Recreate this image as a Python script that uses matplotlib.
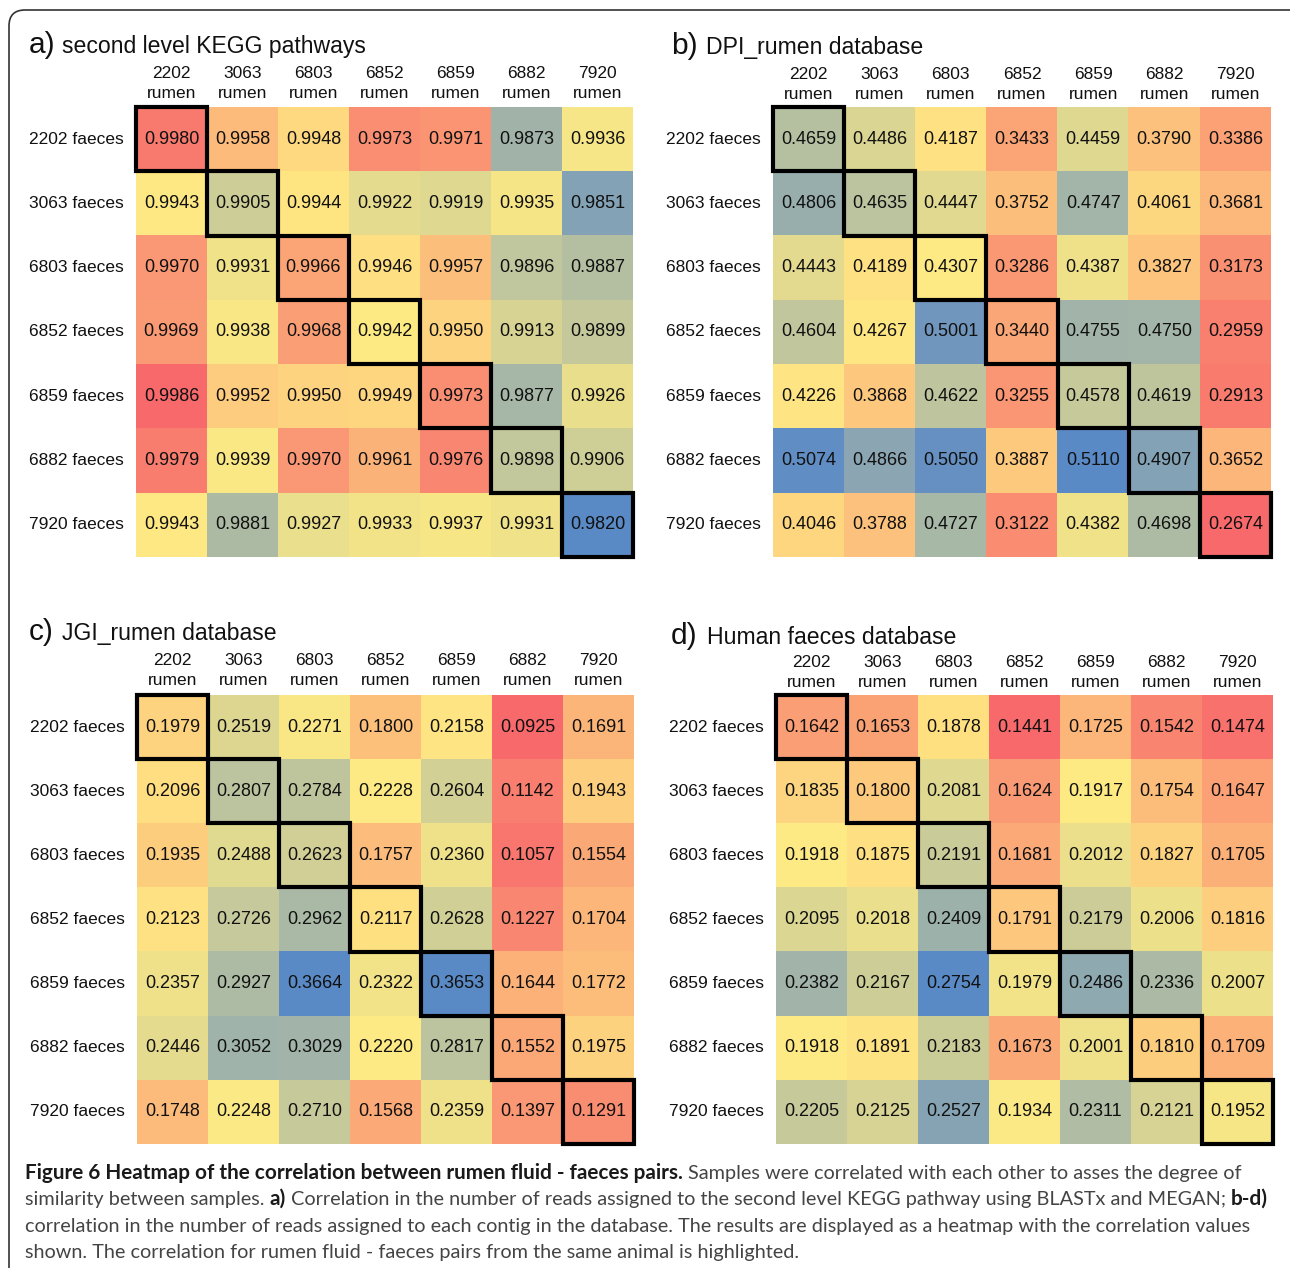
import numpy as np
import matplotlib
matplotlib.use("Agg")
import matplotlib.pyplot as plt
from matplotlib.colors import LinearSegmentedColormap, TwoSlopeNorm
from matplotlib.patches import Rectangle, FancyBboxPatch
from matplotlib.transforms import IdentityTransform

# ---------------- data ----------------
animals = ["2202", "3063", "6803", "6852", "6859", "6882", "7920"]
col_labels = [a + "\nrumen" for a in animals]
row_labels = [a + " faeces" for a in animals]

kegg = [
    [0.9980, 0.9958, 0.9948, 0.9973, 0.9971, 0.9873, 0.9936],
    [0.9943, 0.9905, 0.9944, 0.9922, 0.9919, 0.9935, 0.9851],
    [0.9970, 0.9931, 0.9966, 0.9946, 0.9957, 0.9896, 0.9887],
    [0.9969, 0.9938, 0.9968, 0.9942, 0.9950, 0.9913, 0.9899],
    [0.9986, 0.9952, 0.9950, 0.9949, 0.9973, 0.9877, 0.9926],
    [0.9979, 0.9939, 0.9970, 0.9961, 0.9976, 0.9898, 0.9906],
    [0.9943, 0.9881, 0.9927, 0.9933, 0.9937, 0.9931, 0.9820],
]
dpi_rumen = [
    [0.4659, 0.4486, 0.4187, 0.3433, 0.4459, 0.3790, 0.3386],
    [0.4806, 0.4635, 0.4447, 0.3752, 0.4747, 0.4061, 0.3681],
    [0.4443, 0.4189, 0.4307, 0.3286, 0.4387, 0.3827, 0.3173],
    [0.4604, 0.4267, 0.5001, 0.3440, 0.4755, 0.4750, 0.2959],
    [0.4226, 0.3868, 0.4622, 0.3255, 0.4578, 0.4619, 0.2913],
    [0.5074, 0.4866, 0.5050, 0.3887, 0.5110, 0.4907, 0.3652],
    [0.4046, 0.3788, 0.4727, 0.3122, 0.4382, 0.4698, 0.2674],
]
jgi_rumen = [
    [0.1979, 0.2519, 0.2271, 0.1800, 0.2158, 0.0925, 0.1691],
    [0.2096, 0.2807, 0.2784, 0.2228, 0.2604, 0.1142, 0.1943],
    [0.1935, 0.2488, 0.2623, 0.1757, 0.2360, 0.1057, 0.1554],
    [0.2123, 0.2726, 0.2962, 0.2117, 0.2628, 0.1227, 0.1704],
    [0.2357, 0.2927, 0.3664, 0.2322, 0.3653, 0.1644, 0.1772],
    [0.2446, 0.3052, 0.3029, 0.2220, 0.2817, 0.1552, 0.1975],
    [0.1748, 0.2248, 0.2710, 0.1568, 0.2359, 0.1397, 0.1291],
]
human_faeces = [
    [0.1642, 0.1653, 0.1878, 0.1441, 0.1725, 0.1542, 0.1474],
    [0.1835, 0.1800, 0.2081, 0.1624, 0.1917, 0.1754, 0.1647],
    [0.1918, 0.1875, 0.2191, 0.1681, 0.2012, 0.1827, 0.1705],
    [0.2095, 0.2018, 0.2409, 0.1791, 0.2179, 0.2006, 0.1816],
    [0.2382, 0.2167, 0.2754, 0.1979, 0.2486, 0.2336, 0.2007],
    [0.1918, 0.1891, 0.2183, 0.1673, 0.2001, 0.1810, 0.1709],
    [0.2205, 0.2125, 0.2527, 0.1934, 0.2311, 0.2121, 0.1952],
]

panel_letters = ["a)", "b)", "c)", "d)"]
panel_titles = ["second level KEGG pathways", "DPI_rumen database",
                "JGI_rumen database", "Human faeces database"]
panel_data = [kegg, dpi_rumen, jgi_rumen, human_faeces]
high_is_red = [True, False, False, False]

caption_lines = [
    [("b", "Figure 6 Heatmap of the correlation between rumen fluid - faeces pairs."),
     ("r", " Samples were correlated with each other to asses the degree of")],
    [("r", "similarity between samples. "), ("b", "a)"),
     ("r", " Correlation in the number of reads assigned to the second level KEGG pathway using BLASTx and MEGAN; "),
     ("b", "b-d)")],
    [("r", "correlation in the number of reads assigned to each contig in the database. The results are displayed as a heatmap with the correlation values")],
    [("r", "shown. The correlation for rumen fluid - faeces pairs from the same animal is highlighted.")],
]

# ---------------- layout (pixels) ----------------
W, H = 1290, 1268
fig = plt.figure(figsize=(W / 100, H / 100), dpi=100)

panels_px = [
    dict(box=(136, 107, 633, 557), tb=53, lx=29, tx=62, cb=98),
    dict(box=(773, 107, 1271, 557), tb=54, lx=671, tx=706, cb=99),
    dict(box=(137, 695, 634, 1144), tb=640, lx=29, tx=62, cb=685),
    dict(box=(776, 695, 1273, 1144), tb=644, lx=671, tx=707, cb=687),
]

FONT = ["Liberation Sans", "DejaVu Sans"]
colors = ["#F8696B", "#FFEB84", "#5A8AC6"]
cmap_low_red = LinearSegmentedColormap.from_list("rdylbu_xl", colors)
cmap_high_red = LinearSegmentedColormap.from_list("bu_yl_rd_xl", colors[::-1])


def fy(y):
    return 1 - y / H


for k in range(4):
    P = panels_px[k]
    L, T, R, B = P["box"]
    ax = fig.add_axes([L / W, fy(B), (R - L) / W, (B - T) / H])
    data = np.array(panel_data[k])
    n = data.shape[0]
    norm = TwoSlopeNorm(vmin=data.min(), vcenter=np.median(data), vmax=data.max())
    cmap = cmap_high_red if high_is_red[k] else cmap_low_red
    ax.imshow(data, cmap=cmap, norm=norm, aspect="auto",
              extent=(-0.5, n - 0.5, n - 0.5, -0.5), interpolation="nearest")
    ax.set_xlim(-0.5, n - 0.5)
    ax.set_ylim(n - 0.5, -0.5)
    ax.axis("off")
    colw = (R - L) / n
    rowh = (B - T) / n
    for i in range(n):
        for j in range(n):
            ax.text(j, i, f"{data[i, j]:.4f}", ha="center", va="center",
                    fontsize=13, family=FONT, color="#111111")
    # highlighted diagonal
    for i in range(n):
        ax.add_patch(Rectangle((i - 0.5, i - 0.5), 1, 1, fill=False,
                               edgecolor="black", lw=3.0, zorder=5,
                               clip_on=False, joinstyle="miter"))
    # column labels
    for j in range(n):
        ax.text(j, -0.5 - (T - P["cb"]) / rowh, col_labels[j], ha="center",
                va="baseline", fontsize=12.5, family=FONT, color="#111111",
                linespacing=1.4, multialignment="center")
    # row labels
    for i in range(n):
        ax.text(-0.5 - 12 / colw, i, row_labels[i], ha="right", va="center",
                fontsize=12.5, family=FONT, color="#111111")
    # titles
    fig.text(P["lx"] / W, fy(P["tb"]), panel_letters[k], fontsize=21.5,
             family=FONT, color="#111111", va="baseline", ha="left")
    fig.text(P["tx"] / W, fy(P["tb"]), panel_titles[k], fontsize=16.6,
             family=FONT, color="#111111", va="baseline", ha="left")

# border
border = FancyBboxPatch((9, -30), 1320, H - 10 + 30,
                        boxstyle="round,pad=0,rounding_size=16",
                        transform=IdentityTransform(), fill=False,
                        edgecolor="#333333", lw=1.2)
fig.add_artist(border)

# caption
CAP_FONT = ["Lato", "DejaVu Sans"]
renderer = fig.canvas.get_renderer()


def text_width(s, size, weight):
    t = fig.text(0, 0, s, fontsize=size, family=CAP_FONT, fontweight=weight)
    w = t.get_window_extent(renderer).width
    t.remove()
    return w


target = 1250 - 25
w10 = text_width(caption_lines[2][0][1], 10, "normal")
cap_size = 10 * target / w10
bold_size = cap_size * 1.05
sizes = {"r": cap_size, "b": bold_size}
space_r = text_width("a a", cap_size, "normal") - text_width("aa", cap_size, "normal")
space_b = text_width("a a", bold_size, "bold") - text_width("aa", bold_size, "bold")

baselines = [1179, 1205, 1232, 1258]
for line, yb in zip(caption_lines, baselines):
    x = 25.0
    for style, s in line:
        weight = "bold" if style == "b" else "normal"
        col = "#1a1a1a" if style == "b" else "#444444"
        sp = space_b if style == "b" else space_r
        lead = len(s) - len(s.lstrip(" "))
        trail = len(s) - len(s.rstrip(" "))
        core = s.strip(" ")
        x += lead * sp
        t = fig.text(x / W, fy(yb), core, fontsize=sizes[style], family=CAP_FONT,
                     fontweight=weight, color=col, va="baseline", ha="left")
        x += t.get_window_extent(renderer).width + trail * sp

fig.savefig("out.png", dpi=100)
